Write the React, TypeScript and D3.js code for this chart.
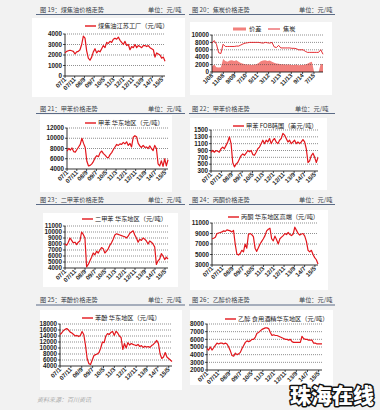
import React from 'react';
import * as d3 from 'd3';

// ---------- data ----------
const monthLabels = ['07/1', '07/11', '08/9', '09/7', '10/5', '11/3', '12/1', '12/11', '13/9', '14/7', '15/5'];
const cokeLabels = ['1/08', '11/08', '9/09', '7/10', '5/11', '3/12', '1/13', '11/13', '9/14', '7/15'];

const coalTar = [2200, 2350, 2400, 2450, 2400, 2350, 2100, 2300, 2350, 2500, 3000, 3800, 3600, 2400, 1700, 1500, 1800, 2300, 2600, 2200, 2400, 2300, 2600, 2900, 2700, 3200, 3100, 3300, 3200, 3500, 3600, 3500, 3700, 3400, 3200, 3000, 3300, 2900, 3000, 2500, 2800, 2700, 3000, 2700, 2900, 2800, 2700, 2900, 2900, 2800, 2900, 2700, 2600, 2500, 1800, 2200, 2100, 2000, 1700, 1800, 1400];

const cokePrice = [7800, 8500, 7500, 5200, 5000, 7500, 6900, 6900, 6900, 6900, 6900, 7000, 7000, 7300, 7600, 7800, 7900, 8000, 8000, 8000, 8000, 8000, 7900, 7800, 8000, 7900, 7800, 8000, 6800, 6600, 7200, 6500, 6500, 6500, 6500, 6500, 6400, 6400, 6300, 6000, 6000, 6000, 5600, 5300, 5300, 5300, 5300, 5300, 5300, 6000, 4800];
const cokeSpread = [1500, 2000, 1300, 1200, 1300, 3500, 3000, 2800, 3100, 3200, 3000, 3200, 2800, 2400, 2200, 2100, 2000, 2000, 1900, 2000, 2100, 2400, 2900, 3100, 3200, 3000, 3100, 2800, 2500, 2300, 2200, 2100, 2100, 2000, 2000, 2000, 1900, 1900, 2000, 1800, 1900, 1900, 2000, 2200, 2600, 2800, 0, 0, 0, 2200, 2000];

const tolueneEast = [7500, 8000, 7700, 8100, 7400, 7300, 7800, 8300, 8800, 10000, 9000, 8200, 5500, 4600, 4700, 5000, 5500, 6200, 6600, 6400, 7200, 7500, 7000, 6700, 6300, 6200, 6800, 7200, 7800, 8300, 8800, 8600, 8900, 8800, 9200, 8900, 9300, 8600, 9000, 8300, 10200, 10500, 10300, 9000, 8500, 8200, 8600, 8200, 8300, 8000, 8500, 8000, 7600, 8600, 8000, 5000, 4600, 5600, 4500, 6000, 4600, 5800];

const tolueneFob = [850, 900, 850, 900, 880, 850, 950, 1000, 950, 1050, 1150, 1300, 1100, 550, 420, 500, 550, 650, 750, 800, 760, 820, 900, 860, 900, 780, 760, 850, 950, 1000, 1100, 1200, 1100, 1200, 1150, 1250, 1100, 1200, 1250, 1150, 1100, 1200, 1250, 1400, 1350, 1250, 1150, 1200, 1100, 1150, 1200, 1100, 1150, 1100, 1150, 1220, 1150, 950, 550, 600, 750, 820, 700, 550, 700];

const xyleneEast = [8000, 7800, 8300, 9000, 8600, 8200, 8300, 7900, 8300, 8500, 10000, 9600, 9000, 4200, 4600, 5200, 5800, 6500, 6200, 6800, 6500, 7000, 7400, 7200, 6500, 6800, 7200, 7800, 8200, 8800, 9500, 9700, 9600, 9500, 9400, 9300, 9200, 9000, 9300, 9800, 10000, 10200, 9500, 9000, 8300, 8800, 8600, 9000, 8800, 8500, 8000, 8500, 8300, 8000, 7500, 4600, 5200, 5500, 6400, 6000, 5400, 5800, 5500];

const acetoneEast = [8000, 8100, 8300, 9000, 9100, 9200, 9300, 9500, 9400, 9700, 9600, 9500, 9300, 9600, 7000, 5100, 4900, 5200, 5800, 5500, 7000, 6200, 8800, 9000, 8800, 8400, 6200, 5600, 6300, 7000, 7500, 8000, 8600, 9500, 9800, 10000, 8000, 7600, 8500, 7800, 7000, 8000, 8300, 8600, 9000, 8800, 9200, 8800, 8600, 8900, 10200, 9600, 9000, 8700, 8900, 9000, 8500, 7500, 5800, 5500, 5800, 5000, 4400, 4000, 3200];

const phenolEast = [14500, 15000, 15800, 16200, 16500, 16000, 15300, 15000, 14500, 14000, 14200, 13800, 14200, 15500, 14500, 11000, 6500, 4800, 4500, 6000, 7500, 7800, 8000, 8500, 10000, 12000, 11800, 14000, 14800, 14500, 15200, 15500, 14200, 15600, 15000, 14000, 13500, 9500, 11500, 10000, 11800, 11000, 11500, 11200, 11000, 10800, 11200, 10500, 10800, 10200, 10600, 10300, 10500, 10200, 10800, 11200, 11800, 12500, 11500, 8000, 6500, 7000, 8500, 7000, 6500, 6000, 5500];

const ethanolEast = [4800, 4600, 5000, 4600, 4900, 5200, 5500, 5400, 5500, 5500, 5400, 5500, 5400, 5000, 4500, 3900, 3800, 4200, 4000, 4100, 4300, 4800, 5200, 5600, 5800, 5700, 5800, 6000, 6000, 6300, 6800, 6900, 7100, 7300, 7400, 7500, 7500, 7400, 6900, 6500, 6600, 6500, 6500, 6400, 6300, 6200, 6100, 6000, 6000, 5900, 6000, 5700, 5600, 5600, 5600, 5600, 5600, 6400, 6100, 6000, 6000, 5900, 5900, 5900, 5500, 5500, 5400, 5400, 5400, 5400];

// ---------- styles ----------
const RED = '#e2161c';
const SPREAD = '#f2807c';
const BG = '#f2f2f2';
const TXT = '#222';
const HEAD = '#3a3f4a';
const RULE = '#5b6b86';
const NUMFONT = 'Liberation Sans, Arial, sans-serif';
const CJK = '"Noto Sans CJK SC", sans-serif';

type Rect = { l: number; r: number; t: number; b: number };

function Header({ x, unitX, y, x0, x1, title }: any) {
  return (
    <g>
      <text x={x} y={y} fontSize={6.2} fontFamily={CJK} fill={HEAD}>{title}</text>
      <text x={unitX} y={y} fontSize={6.2} fontFamily={CJK} fill={HEAD}>单位：元/吨</text>
      <line x1={x0} x2={x1} y1={y + 3} y2={y + 3} stroke={RULE} strokeWidth={1.2} />
    </g>
  );
}

function Axes({ plot, yScale, yTicks, labels, xMax, yFmt }: any) {
  const xl = d3.scaleLinear().domain([0, xMax]).range([plot.l, plot.r]);
  return (
    <g>
      {yTicks.map((v: number) => (
        <g key={'g' + v}>
          {v !== yScale.domain()[0] && (
            <line x1={plot.l} x2={plot.r} y1={yScale(v)} y2={yScale(v)} stroke="#444" strokeWidth={0.6} strokeDasharray="1,1" />
          )}
          <line x1={plot.l - 2} x2={plot.l} y1={yScale(v)} y2={yScale(v)} stroke="#000" strokeWidth={0.7} />
          <text x={plot.l - 3} y={yScale(v) + 2.2} fontSize={6.3} fontWeight="bold" fontFamily={NUMFONT} textAnchor="end" fill={TXT}>
            {yFmt ? yFmt(v) : v}
          </text>
        </g>
      ))}
      <line x1={plot.l} x2={plot.l} y1={plot.t} y2={plot.b} stroke="#000" strokeWidth={0.8} />
      <line x1={plot.l} x2={plot.r} y1={plot.b} y2={plot.b} stroke="#000" strokeWidth={0.8} />
      {labels.map((lab: string, k: number) => {
        const x = xl(k * 10);
        return (
          <g key={lab + k}>
            <line x1={x} x2={x} y1={plot.b} y2={plot.b + 2} stroke="#000" strokeWidth={0.7} />
            <text
              transform={`translate(${x + 1.5},${plot.b + 4}) rotate(-45)`}
              fontSize={6} fontWeight="bold" fontFamily={NUMFONT} textAnchor="end" fill={TXT}
            >{lab}</text>
          </g>
        );
      })}
    </g>
  );
}

function LinePanel({ box, plot, legend, legendPos, yDomain, yTicks, values, labels, xMax }: any) {
  const y = d3.scaleLinear().domain(yDomain).range([plot.b, plot.t]);
  const x = d3.scaleLinear().domain([0, values.length - 1]).range([plot.l, plot.r]);
  const path = d3.line<number>().x((_, i) => x(i)).y((d) => y(d))(values) || '';
  return (
    <g>
      <rect x={box.x} y={box.y} width={box.w} height={box.h} fill="#fff" />
      <Axes plot={plot} yScale={y} yTicks={yTicks} labels={labels} xMax={xMax} />
      <path d={path} fill="none" stroke={RED} strokeWidth={1.2} strokeLinejoin="round" />
      <line x1={legendPos.x} x2={legendPos.x + 11} y1={legendPos.y} y2={legendPos.y} stroke={RED} strokeWidth={1.4} />
      <text x={legendPos.x + 13} y={legendPos.y + 2.2} fontSize={6.2} fontFamily={CJK} fill={TXT}>{legend}</text>
    </g>
  );
}

function CokePanel({ box, plot }: any) {
  const y = d3.scaleLinear().domain([0, 10000]).range([plot.b, plot.t]);
  const x = d3.scaleLinear().domain([0, cokePrice.length - 1]).range([plot.l, plot.r]);
  const area = d3.area<number>().x((_, i) => x(i)).y0(plot.b).y1((d) => y(d))(cokeSpread) || '';
  const line = d3.line<number>().x((_, i) => x(i)).y((d) => y(d))(cokePrice) || '';
  const ticks = [0, 2000, 4000, 6000, 8000, 10000];
  return (
    <g>
      <rect x={box.x} y={box.y} width={box.w} height={box.h} fill="#fff" />
      <path d={area} fill={SPREAD} stroke="none" />
      <Axes plot={plot} yScale={y} yTicks={ticks} labels={cokeLabels} xMax={98} />
      <path d={line} fill="none" stroke={RED} strokeWidth={0.9} />
      <rect x={233} y={27.5} width={13} height={3} fill={SPREAD} />
      <text x={249} y={31.2} fontSize={6.2} fontFamily={CJK} fill={TXT}>价差</text>
      <line x1={268} x2={280} y1={29} y2={29} stroke={RED} strokeWidth={0.9} />
      <text x={283} y={31.2} fontSize={6.2} fontFamily={CJK} fill={TXT}>焦炭</text>
    </g>
  );
}

export default function App() {
  return (
    <svg width={380} height={410} style={{ position: 'absolute', left: 0, top: 0, display: 'block' }}>
      <rect x={0} y={0} width={380} height={410} fill={BG} />

      {/* Row 1 */}
      <Header x={40} unitX={148} y={11.5} x0={36} x1={185} title="图 19：煤焦油价格走势" />
      <Header x={192} unitX={299} y={11.5} x0={189} x1={335} title="图 20：焦炭价格走势" />
      <LinePanel
        box={{ x: 32, y: 18, w: 153, h: 79 }} plot={{ l: 65, r: 165, t: 34, b: 76 }}
        legend="煤焦油江苏工厂（元/吨）" legendPos={{ x: 85, y: 26 }}
        yDomain={[0, 4000]} yTicks={[0, 1000, 2000, 3000, 4000]} values={coalTar} labels={monthLabels} xMax={103}
      />
      <CokePanel box={{ x: 190, y: 22, w: 142, h: 73 }} plot={{ l: 212, r: 323, t: 35, b: 72 }} />

      {/* Row 2 */}
      <Header x={40} unitX={148} y={110.5} x0={36} x1={185} title="图 21：甲苯价格走势" />
      <Header x={192} unitX={295} y={110.5} x0={189} x1={335} title="图 22：甲苯价格走势" />
      <LinePanel
        box={{ x: 40, y: 115, w: 132, h: 77 }} plot={{ l: 67, r: 168, t: 128, b: 169 }}
        legend="甲苯 华东地区（元/吨）" legendPos={{ x: 85, y: 123 }}
        yDomain={[4000, 12000]} yTicks={[4000, 6000, 8000, 10000, 12000]} values={tolueneEast} labels={monthLabels} xMax={103}
      />
      <LinePanel
        box={{ x: 190, y: 118, w: 137, h: 72 }} plot={{ l: 211, r: 318, t: 130, b: 171 }}
        legend="甲苯 FOB韩国（美元/吨）" legendPos={{ x: 233, y: 126 }}
        yDomain={[300, 1500]} yTicks={[300, 500, 700, 900, 1100, 1300, 1500]} values={tolueneFob} labels={monthLabels} xMax={103}
      />

      {/* Row 3 */}
      <Header x={40} unitX={148} y={201.5} x0={36} x1={185} title="图 23：二甲苯价格走势" />
      <Header x={192} unitX={299} y={201.5} x0={189} x1={335} title="图 24：丙酮价格走势" />
      <LinePanel
        box={{ x: 43, y: 213, w: 135, h: 74 }} plot={{ l: 65, r: 168, t: 226, b: 268 }}
        legend="二甲苯 华东地区（元/吨）" legendPos={{ x: 82, y: 219 }}
        yDomain={[4000, 11000]} yTicks={[4000, 5000, 6000, 7000, 8000, 9000, 10000, 11000]} values={xyleneEast} labels={monthLabels} xMax={103}
      />
      <LinePanel
        box={{ x: 190, y: 210, w: 138, h: 80 }} plot={{ l: 212, r: 318, t: 223, b: 265 }}
        legend="丙酮 华东地区高端（元/吨）" legendPos={{ x: 228, y: 217 }}
        yDomain={[3000, 11000]} yTicks={[3000, 5000, 7000, 9000, 11000]} values={acetoneEast} labels={monthLabels} xMax={103}
      />

      {/* Row 4 */}
      <Header x={40} unitX={148} y={302} x0={36} x1={185} title="图 25：苯酚价格走势" />
      <Header x={192} unitX={299} y={302} x0={189} x1={335} title="图 26：乙醇价格走势" />
      <LinePanel
        box={{ x: 40, y: 310, w: 142, h: 80 }} plot={{ l: 60, r: 172, t: 324, b: 366 }}
        legend="苯酚 华东地区（元/吨）" legendPos={{ x: 82, y: 318 }}
        yDomain={[4000, 18000]} yTicks={[4000, 6000, 8000, 10000, 12000, 14000, 16000, 18000]} values={phenolEast} labels={monthLabels} xMax={103}
      />
      <LinePanel
        box={{ x: 190, y: 310, w: 143, h: 75 }} plot={{ l: 207, r: 322, t: 324, b: 370 }}
        legend="乙醇 食用酒精华东地区（元/吨）" legendPos={{ x: 225, y: 319 }}
        yDomain={[2000, 8000]} yTicks={[2000, 3000, 4000, 5000, 6000, 7000, 8000]} values={ethanolEast} labels={monthLabels} xMax={103}
      />

      <text x={37} y={402} fontSize={6} fontFamily={CJK} fill="#aaa" fontStyle="italic">资料来源：百川资讯</text>

      <text x={290} y={403} fontSize={21} fontWeight="900" fontFamily={CJK} fill="#fff" stroke="#111" strokeWidth={3} paintOrder="stroke" strokeLinejoin="round">珠海在线</text>
    </svg>
  );
}
